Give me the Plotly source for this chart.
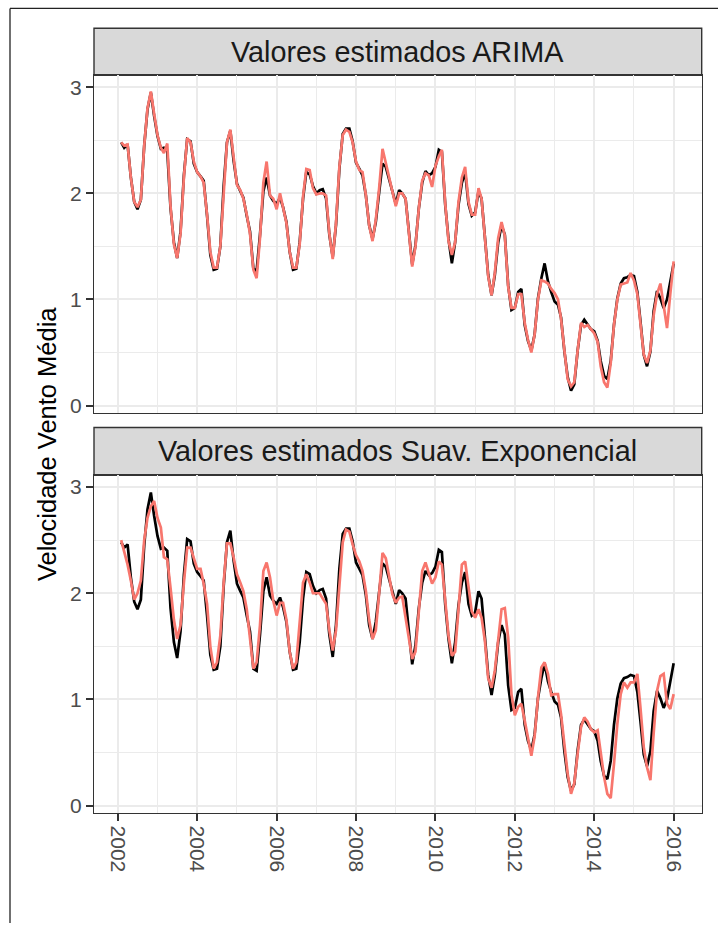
import pandas as pd
import plotly.graph_objects as go

# Monthly mean wind speed, Feb 2002 - Jan 2016
observado = [
    2.48, 2.43, 2.46, 2.15, 1.92, 1.85, 1.94, 2.45, 2.79, 2.95, 2.73, 2.54,
    2.42, 2.43, 2.40, 1.86, 1.54, 1.39, 1.64, 2.17, 2.51, 2.49, 2.28, 2.20,
    2.16, 2.12, 1.79, 1.42, 1.28, 1.29, 1.50, 2.07, 2.48, 2.59, 2.31, 2.09,
    2.02, 1.96, 1.79, 1.64, 1.29, 1.27, 1.61, 2.02, 2.15, 1.98, 1.93, 1.90,
    1.96, 1.87, 1.73, 1.45, 1.28, 1.29, 1.54, 1.95, 2.20, 2.18, 2.07, 2.00,
    2.03, 2.04, 1.95, 1.61, 1.40, 1.70, 2.23, 2.56, 2.61, 2.61, 2.49, 2.29,
    2.23, 2.17, 1.98, 1.70, 1.57, 1.73, 2.01, 2.28, 2.25, 2.14, 2.03, 1.90,
    2.03, 2.00, 1.95, 1.64, 1.33, 1.51, 1.86, 2.10, 2.21, 2.17, 2.19, 2.25,
    2.41, 2.39, 1.89, 1.57, 1.34, 1.54, 1.89, 2.10, 2.20, 1.90, 1.79, 1.82,
    2.02, 1.95, 1.61, 1.23, 1.04, 1.23, 1.54, 1.70, 1.61, 1.13, 0.90, 0.92,
    1.07, 1.10, 0.76, 0.61, 0.52, 0.67, 1.01, 1.20, 1.34, 1.17, 1.07, 0.98,
    0.95, 0.83, 0.51, 0.27, 0.14, 0.20, 0.52, 0.76, 0.81, 0.76, 0.72, 0.70,
    0.61, 0.42, 0.28, 0.25, 0.42, 0.76, 1.01, 1.15, 1.20, 1.21, 1.23, 1.22,
    1.07, 0.80, 0.48, 0.37, 0.51, 0.89, 1.08, 1.01, 0.92, 1.00, 1.17, 1.34,
]

# Fitted values, ARIMA model
ajuste_arima = [
    2.48, 2.45, 2.46, 2.15, 1.92, 1.87, 1.94, 2.45, 2.80, 2.96, 2.75, 2.55,
    2.43, 2.38, 2.47, 1.88, 1.52, 1.39, 1.62, 2.15, 2.52, 2.48, 2.30, 2.20,
    2.16, 2.10, 1.80, 1.45, 1.30, 1.30, 1.50, 2.05, 2.48, 2.60, 2.33, 2.08,
    2.03, 1.95, 1.80, 1.62, 1.28, 1.20, 1.58, 2.10, 2.30, 1.98, 1.95, 1.85,
    2.00, 1.88, 1.72, 1.45, 1.30, 1.30, 1.52, 1.97, 2.23, 2.22, 2.05, 1.99,
    2.00, 2.00, 1.98, 1.62, 1.38, 1.72, 2.25, 2.55, 2.60, 2.58, 2.48, 2.30,
    2.22, 2.20, 1.98, 1.70, 1.55, 1.75, 2.05, 2.42, 2.28, 2.14, 2.02, 1.88,
    2.00, 2.00, 1.95, 1.66, 1.31, 1.50, 1.86, 2.12, 2.19, 2.17, 2.06, 2.26,
    2.35, 2.41, 1.90, 1.55, 1.42, 1.54, 1.92, 2.15, 2.25, 1.92, 1.80, 1.80,
    2.05, 1.95, 1.60, 1.22, 1.04, 1.25, 1.58, 1.73, 1.60, 1.12, 0.92, 0.92,
    1.05, 1.05, 0.78, 0.62, 0.50, 0.67, 1.00, 1.18, 1.17, 1.15, 1.10, 1.06,
    1.00, 0.82, 0.52, 0.25, 0.18, 0.22, 0.52, 0.78, 0.74, 0.76, 0.72, 0.68,
    0.60, 0.37, 0.22, 0.17, 0.40, 0.76, 1.00, 1.14, 1.15, 1.16, 1.25, 1.18,
    1.05, 0.80, 0.48, 0.40, 0.52, 0.85, 1.05, 1.15, 0.95, 0.73, 1.05, 1.36,
]

# Fitted values, exponential smoothing
ajuste_suav = [
    2.50, 2.40, 2.27, 2.12, 1.94, 2.00, 2.12, 2.50, 2.71, 2.82, 2.87, 2.71,
    2.62, 2.34, 2.32, 2.05, 1.75, 1.57, 1.70, 2.10, 2.43, 2.43, 2.34, 2.23,
    2.23, 2.09, 1.90, 1.50, 1.29, 1.35, 1.60, 2.10, 2.47, 2.47, 2.34, 2.18,
    2.10, 2.02, 1.85, 1.60, 1.29, 1.35, 1.70, 2.21, 2.29, 2.15, 1.93, 1.79,
    1.91, 1.91, 1.75, 1.45, 1.29, 1.35, 1.70, 2.10, 2.18, 2.10, 2.00, 2.00,
    2.00, 1.95, 1.90, 1.65, 1.46, 1.65, 2.10, 2.48, 2.60, 2.58, 2.46, 2.36,
    2.30, 2.21, 2.02, 1.75, 1.57, 1.65, 2.00, 2.38, 2.33, 2.15, 1.99, 1.91,
    1.96, 1.97, 1.77, 1.55, 1.38, 1.45, 1.85, 2.21, 2.29, 2.18, 2.09, 2.15,
    2.30, 2.27, 1.95, 1.60, 1.41, 1.45, 1.85, 2.27, 2.30, 2.05, 1.83, 1.77,
    1.85, 1.77, 1.55, 1.20, 1.11, 1.27, 1.55, 1.85, 1.86, 1.58, 1.05, 0.85,
    0.93, 0.96, 0.80, 0.65, 0.47, 0.65, 1.02, 1.30, 1.35, 1.24, 1.04, 1.05,
    1.05, 0.86, 0.58, 0.30, 0.11, 0.21, 0.49, 0.74, 0.83, 0.79, 0.72, 0.69,
    0.71, 0.49, 0.27, 0.11, 0.07, 0.39, 0.77, 1.05, 1.16, 1.11, 1.16, 1.16,
    1.24, 0.93, 0.55, 0.36, 0.24, 0.68, 1.08, 1.22, 1.24, 0.96, 0.91, 1.05,
]

titulos = ["Valores estimados ARIMA", "Valores estimados Suav. Exponencial"]

datas = pd.date_range("2002-02-01", periods=len(observado), freq="MS")

W, H = 718, 927
FONT = "Liberation Sans, Arial, sans-serif"
VERMELHO = "#F8766D"
BORDA = "#333333"
GRADE = "#EBEBEB"


def py(px):
    """Pixel row (from top) to paper fraction."""
    return 1 - px / H


def px_(px):
    return px / W


x_dom = [px_(94), px_(701.7)]
paineis = [
    dict(strip=(28.3, 75.7), plot=(75.7, 415.0)),
    dict(strip=(429.3, 477.3), plot=(477.3, 816.7)),
]
x_range = ["2001-05-27", "2016-09-15"]
y_range = [-0.072, 3.112]

fig = go.Figure()

for i, ajuste in enumerate([ajuste_arima, ajuste_suav]):
    ax = "" if i == 0 else "2"
    fig.add_trace(go.Scatter(
        x=datas, y=observado, mode="lines",
        line=dict(color="black", width=2.7),
        xaxis="x" + ax, yaxis="y" + ax, showlegend=False,
    ))
    fig.add_trace(go.Scatter(
        x=datas, y=ajuste, mode="lines",
        line=dict(color=VERMELHO, width=2.7),
        xaxis="x" + ax, yaxis="y" + ax, showlegend=False,
    ))

eixo_x = dict(
    type="date", range=x_range, domain=x_dom,
    tick0="2002-01-01", dtick="M24",
    showgrid=True, gridcolor=GRADE, gridwidth=2,
    minor=dict(dtick="M12", showgrid=True, gridcolor=GRADE, gridwidth=1),
    showline=True, linecolor=BORDA, linewidth=1.4, mirror=True,
    zeroline=False,
)
eixo_y = dict(
    range=y_range, tickvals=[0, 1, 2, 3],
    showgrid=True, gridcolor=GRADE, gridwidth=2,
    minor=dict(dtick=0.5, tick0=0, showgrid=True, gridcolor=GRADE, gridwidth=1),
    showline=True, linecolor=BORDA, linewidth=1.4, mirror=True,
    zeroline=False,
    ticks="outside", ticklen=7, tickwidth=1.6, tickcolor=BORDA,
    tickfont=dict(family=FONT, size=21, color="#4D4D4D"),
)

top1 = paineis[0]["plot"]
top2 = paineis[1]["plot"]

fig.update_layout(
    width=W, height=H,
    margin=dict(l=0, r=0, t=0, b=0),
    paper_bgcolor="white", plot_bgcolor="white",
    xaxis=dict(eixo_x, anchor="y", showticklabels=False, ticks=""),
    yaxis=dict(eixo_y, anchor="x", domain=[py(top1[1]), py(top1[0])]),
    xaxis2=dict(
        eixo_x, anchor="y2", matches="x",
        ticks="outside", ticklen=7, tickwidth=1.6, tickcolor=BORDA,
        tickangle=90, tickformat="%Y",
        tickfont=dict(family=FONT, size=21, color="#4D4D4D"),
    ),
    yaxis2=dict(eixo_y, anchor="x2", domain=[py(top2[1]), py(top2[0])]),
)

shapes = []
annotations = []
for painel, titulo in zip(paineis, titulos):
    s0, s1 = painel["strip"]
    shapes.append(dict(
        type="rect", xref="paper", yref="paper",
        x0=x_dom[0], x1=x_dom[1], y0=py(s1), y1=py(s0),
        fillcolor="#D9D9D9", line=dict(color=BORDA, width=1.4), layer="below",
    ))
    annotations.append(dict(
        text=titulo, xref="paper", yref="paper",
        x=(x_dom[0] + x_dom[1]) / 2, y=py((s0 + s1) / 2),
        xanchor="center", yanchor="middle", showarrow=False,
        font=dict(family=FONT, size=28.8, color="#1A1A1A"),
    ))

# Page frame
shapes.append(dict(type="line", xref="paper", yref="paper",
                   x0=px_(10), x1=1.0, y0=py(8.5), y1=py(8.5),
                   line=dict(color="#222222", width=1.3)))
shapes.append(dict(type="line", xref="paper", yref="paper",
                   x0=px_(10), x1=px_(10), y0=py(8.5), y1=0,
                   line=dict(color="#222222", width=1.3)))

annotations.append(dict(
    text="Velocidade Vento Média", xref="paper", yref="paper",
    x=px_(47), y=py(446), textangle=-90,
    xanchor="center", yanchor="middle", showarrow=False,
    font=dict(family=FONT, size=25.5, color="black"),
))

fig.update_layout(shapes=shapes, annotations=annotations)

fig.write_html("out.html")
